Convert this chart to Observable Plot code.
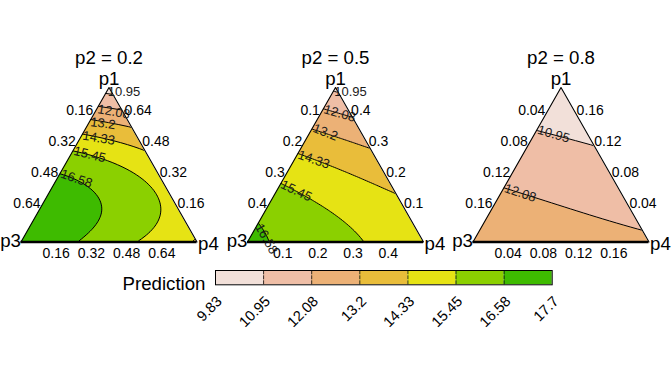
<!DOCTYPE html>
<html><head><meta charset="utf-8">
<script src="https://cdn.jsdelivr.net/npm/d3@7"></script>
<script src="https://cdn.jsdelivr.net/npm/@observablehq/plot@0.6"></script>
<style>
body{margin:0;background:#fff;width:672px;height:384px;overflow:hidden;font-family:"Liberation Sans",Arial,sans-serif}
#row{display:flex}
svg{display:block}
</style></head><body><div id="row"></div><div id="leg"></div>
<script>
// ---- data ----
const panelTitles = ["p2 = 0.2", "p2 = 0.5", "p2 = 0.8"];
const p2Levels = [0.2, 0.5, 0.8];
const thresholds = [9.83, 10.95, 12.08, 13.2, 14.33, 15.45, 16.58];
const legendTicks = [9.83, 10.95, 12.08, 13.2, 14.33, 15.45, 16.58, 17.7];
const bandColors = ["#F2E0D9", "#EFBEA6", "#ECB176", "#E9BD3A", "#E6E314", "#8BD000", "#3EBB00"];
const ticks02 = [0.16, 0.32, 0.48, 0.64];
const ticks05 = [0.1, 0.2, 0.3, 0.4];
const ticks08 = [0.04, 0.08, 0.12, 0.16];
// predictions on a simplex grid: rows from p1 vertex (top) to p3-p4 edge (bottom),
// each row from the p3 side (left) to the p4 side (right)
const pred02 = [
  [10.7],
  [11.9, 11.55],
  [13.58, 13.35, 13.09],
  [15.13, 14.85, 14.5, 14.2],
  [16.28, 16.0, 15.65, 15.25, 14.75],
  [16.95, 16.75, 16.35, 15.95, 15.62, 15.0],
  [17.25, 17.05, 16.85, 16.5, 16.05, 15.62, 15.1],
  [17.45, 17.3, 17.0, 16.56, 16.1, 15.75, 15.35, 14.8],
  [17.55, 17.3, 16.85, 16.3, 15.9, 15.55, 15.15, 14.75, 14.2]
];
const pred05 = [
  [10.7],
  [11.94, 11.6],
  [13.13, 12.8, 12.46],
  [13.98, 13.7, 13.42, 13.14],
  [14.74, 14.5, 14.2, 13.92, 13.64],
  [15.46, 15.2, 14.9, 14.65, 14.4, 14.12],
  [15.98, 15.8, 15.58, 15.3, 15.0, 14.75, 14.5],
  [16.52, 16.2, 15.95, 15.7, 15.5, 15.2, 14.95, 14.75],
  [17.1, 16.52, 16.15, 15.9, 15.7, 15.5, 15.3, 15.15, 15.0]
];
const pred08 = [
  [9.9],
  [10.39, 10.26],
  [10.88, 10.75, 10.63],
  [11.27, 11.18, 11.08, 10.98],
  [11.65, 11.55, 11.44, 11.34, 11.23],
  [12.02, 11.91, 11.8, 11.7, 11.59, 11.48],
  [12.34, 12.24, 12.14, 12.04, 11.93, 11.83, 11.73],
  [12.66, 12.56, 12.47, 12.37, 12.27, 12.17, 12.08, 11.98],
  [12.9, 12.82, 12.73, 12.65, 12.57, 12.48, 12.4, 12.31, 12.23]
];
const predictions = [pred02, pred05, pred08];
const tickSets = [ticks02, ticks05, ticks08];

// ---- layout ----
const PW = 224, PH = 265, TW = 176, TH = 154.5, TOP = 87;
const lefts = [20.5, 23, 24.5];
const FONT = "Liberation Sans, Arial, sans-serif";

function gridPoints(rows) {
  const n = rows.length - 1, pts = [];
  rows.forEach((row, r) => {
    const a = (n - r) / n;
    row.forEach((value, k) => {
      const c = k / n;
      pts.push({a, c, k, x: c + a / 2, y: a, value});
    });
  });
  return pts;
}
// smooth interpolator for Plot.contour: locally weighted quadratic (moving least squares)
function smoothInterpolator(sigma) {
  return (index, width, height, X, Y, V) => {
    const out = new Float64Array(width * height);
    const A = new Float64Array(36), b = new Float64Array(6), p = new Float64Array(6);
    for (let j = 0; j < height; j++) {
      for (let i = 0; i < width; i++) {
        const px = i + 0.5, py = j + 0.5;
        A.fill(0); b.fill(0);
        for (const k of index) {
          const dx = (X[k] - px) / sigma, dy = (Y[k] - py) / sigma;
          const w = Math.exp(-(dx * dx + dy * dy) / 2);
          if (w < 1e-7) continue;
          p[0] = 1; p[1] = dx; p[2] = dy; p[3] = dx * dx; p[4] = dx * dy; p[5] = dy * dy;
          const v = V[k];
          for (let r = 0; r < 6; r++) {
            const wr = w * p[r];
            b[r] += wr * v;
            for (let c = r; c < 6; c++) A[r * 6 + c] += wr * p[c];
          }
        }
        for (let r = 0; r < 6; r++) for (let c = 0; c < r; c++) A[r * 6 + c] = A[c * 6 + r];
        for (let r = 1; r < 6; r++) A[r * 6 + r] += 1e-6;
        for (let c = 0; c < 6; c++) {
          let piv = c;
          for (let r = c + 1; r < 6; r++) if (Math.abs(A[r * 6 + c]) > Math.abs(A[piv * 6 + c])) piv = r;
          if (piv !== c) {
            for (let t = 0; t < 6; t++) { const tmp = A[c * 6 + t]; A[c * 6 + t] = A[piv * 6 + t]; A[piv * 6 + t] = tmp; }
            const tb = b[c]; b[c] = b[piv]; b[piv] = tb;
          }
          const d = A[c * 6 + c];
          for (let r = c + 1; r < 6; r++) {
            const f = A[r * 6 + c] / d;
            if (!f) continue;
            for (let t = c; t < 6; t++) A[r * 6 + t] -= f * A[c * 6 + t];
            b[r] -= f * b[c];
          }
        }
        const sol = new Array(6);
        for (let r = 5; r >= 0; r--) {
          let sum = b[r];
          for (let t = r + 1; t < 6; t++) sum -= A[r * 6 + t] * sol[t];
          sol[r] = sum / A[r * 6 + r];
        }
        out[i + j * width] = sol[0];
      }
    }
    return out;
  };
}
function cross(line, t) {
  for (let i = 0; i < line.length - 1; i++) {
    const p = line[i], q = line[i + 1];
    if ((p.value - t) * (q.value - t) <= 0 && p.value !== q.value) {
      const f = (t - p.value) / (q.value - p.value);
      return {x: p.x + f * (q.x - p.x), y: p.y + f * (q.y - p.y)};
    }
  }
  return null;
}
function contourLabels(pts) {
  const left = pts.filter(d => d.k === 0).sort((u, v) => v.a - u.a);
  const second = pts.filter(d => d.k === 1).sort((u, v) => v.a - u.a);
  const bottom = pts.filter(d => d.a === 0).sort((u, v) => u.c - v.c);
  const out = [];
  for (const t of thresholds.slice(1)) {
    const p0 = cross(left, t);
    if (!p0) continue;
    const p1 = cross(second, t) || cross(bottom, t);
    const ang = p1 ? Math.atan2(-(p1.y - p0.y) * TH, (p1.x - p0.x) * TW) * 180 / Math.PI : 0;
    out.push({x: p0.x, y: p0.y, label: String(t), ang});
  }
  return out;
}
const colorScale = {type: "threshold", domain: thresholds.slice(1), range: bandColors};
const maskL = [{x: -0.15, y1: -0.3, y2: 1.15}, {x: 0, y1: 0, y2: 1.15}, {x: 0.5, y1: 1, y2: 1.15}];
const maskR = [{x: 0.5, y1: 1, y2: 1.15}, {x: 1, y1: 0, y2: 1.15}, {x: 1.15, y1: -0.3, y2: 1.15}];
const edges = [{x: 0, y: 0}, {x: 0.5, y: 1}, {x: 1, y: 0}];

const row = document.getElementById("row");
predictions.forEach((rows, i) => {
  const pts = gridPoints(rows);
  const s = 1 - p2Levels[i];
  const ticks = tickSets[i];
  const L = lefts[i];
  const chart = Plot.plot({
    width: PW, height: PH,
    marginLeft: L, marginRight: PW - L - TW, marginTop: TOP, marginBottom: PH - TOP - TH,
    x: {domain: [0, 1], axis: null},
    y: {domain: [0, 1], axis: null},
    color: colorScale,
    style: {fontFamily: FONT, background: "white", overflow: "visible", color: "black"},
    marks: [
      Plot.contour(pts, {x: "x", y: "y", fill: "value", thresholds, interpolate: smoothInterpolator(20),
        stroke: "black", strokeWidth: 1}),
      Plot.areaY(maskL, {x: "x", y1: "y1", y2: "y2", fill: "white", stroke: "white", strokeWidth: 1}),
      Plot.areaY(maskR, {x: "x", y1: "y1", y2: "y2", fill: "white", stroke: "white", strokeWidth: 1}),
      Plot.line(edges, {x: "x", y: "y", stroke: "black", strokeWidth: 1.1}),
      Plot.ruleY([0], {x1: 0, x2: 1, stroke: "black", strokeWidth: 2.6}),
      Plot.text(contourLabels(pts), {x: "x", y: "y", text: "label", rotate: "ang", textAnchor: "start",
        dx: 1, fontSize: 13, fill: "#1a1a1a"}),
      Plot.text(ticks, {x: t => (1 - t / s) / 2, y: t => 1 - t / s, text: t => String(t),
        textAnchor: "end", dx: 2, dy: -8, fontSize: 14, fill: "black"}),
      Plot.text(ticks, {x: t => 1 - (t / s) / 2, y: t => t / s, text: t => String(t),
        textAnchor: "start", dx: -2, dy: -8, fontSize: 14, fill: "black"}),
      Plot.text(ticks, {x: t => t / s, y: 0, text: t => String(t),
        dy: 12, fontSize: 14, fill: "black"}),
      Plot.text([{x: 0.5, y: 1, t: "p1"}], {x: "x", y: "y", text: "t", dy: -8, fontSize: 18.67, fill: "black"}),
      Plot.text([{x: 0, y: 0, t: "p3"}], {x: "x", y: "y", text: "t", textAnchor: "end", dx: 0, dy: -1, fontSize: 18.67, fill: "black"}),
      Plot.text([{x: 1, y: 0, t: "p4"}], {x: "x", y: "y", text: "t", textAnchor: "start", dx: 1, dy: 2, fontSize: 18.67, fill: "black"}),
      Plot.text([panelTitles[i]], {frameAnchor: "top", lineAnchor: "middle", dy: -29, fontSize: 18.67, fill: "black"})
    ]
  });
  row.appendChild(chart);
});

// ---- legend ----
const LH = 384 - PH;
const legend = Plot.plot({
  width: 672, height: LH,
  marginLeft: 215, marginRight: 672 - 551.7, marginTop: 5, marginBottom: LH - 5 - 14.3,
  x: {domain: [0, 7], axis: null},
  y: {domain: [0, 1], axis: null},
  color: colorScale,
  style: {fontFamily: FONT, background: "white", overflow: "visible", color: "black"},
  marks: [
    Plot.rect(legendTicks.slice(0, -1), {x1: (d, i) => i, x2: (d, i) => i + 1, y1: 0, y2: 1, fill: d => d}),
    Plot.ruleX(d3.range(1, legendTicks.length - 1), {y1: 0, y2: 1, stroke: "black", strokeWidth: 0.8, strokeDasharray: "4,1"}),
    Plot.frame({stroke: "black", strokeWidth: 1}),
    Plot.text(legendTicks, {x: (d, i) => i, y: 0, text: d => String(d), rotate: -45, textAnchor: "end",
      lineAnchor: "top", dx: 0, dy: 10, fontSize: 14.67, fill: "black"}),
    Plot.text(["Prediction"], {frameAnchor: "left", dx: -10, dy: 6, textAnchor: "end", fontSize: 18.67, fill: "black"})
  ]
});
document.getElementById("leg").appendChild(legend);
</script>
</body></html>
